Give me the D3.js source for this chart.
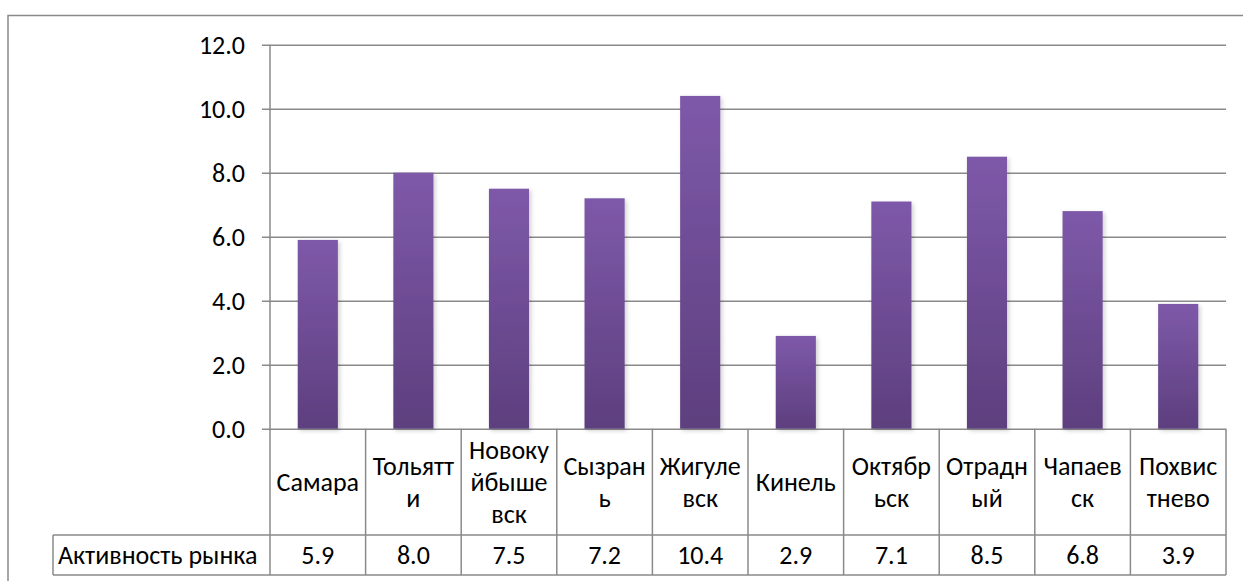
<!DOCTYPE html>
<html>
<head>
<meta charset="utf-8">
<script src="https://cdn.jsdelivr.net/npm/d3@7"></script>
<style>
  body { margin: 0; background: #fff; }
  text { font-family: Carlito, Roboto, sans-serif; fill: #000; }
</style>
</head>
<body>
<div id="chart"></div>
<script>
var categories = ["Самара", "Тольятти", "Новокуйбышевск", "Сызрань", "Жигулевск", "Кинель", "Октябрьск", "Отрадный", "Чапаевск", "Похвистнево"];
// how Excel wrapped the names inside the table cells
var categoryLines = [["Самара"], ["Тольятт", "и"], ["Новоку", "йбыше", "вск"], ["Сызран", "ь"], ["Жигуле", "вск"], ["Кинель"], ["Октябр", "ьск"], ["Отрадн", "ый"], ["Чапаев", "ск"], ["Похвис", "тнево"]];
var seriesName = "Активность рынка";
var values = [5.9, 8.0, 7.5, 7.2, 10.4, 2.9, 7.1, 8.5, 6.8, 3.9];
var yTicks = [0, 2, 4, 6, 8, 10, 12];

var W = 1243, H = 581;
var plotL = 270, plotR = 1226, plotT = 44.7, plotB = 428.7;
var row1 = 535, row2 = 575, tableLeft = 53;
var lineCol = "#8a8a8a";
var fs = 26;

var svg = d3.select("#chart").append("svg")
  .attr("width", W)
  .attr("height", H);

var defs = svg.append("defs");
var grad = defs.append("linearGradient")
  .attr("id", "barGrad")
  .attr("x1", 0).attr("y1", 0).attr("x2", 0).attr("y2", 1);
grad.append("stop").attr("offset", "0%").attr("stop-color", "#7e59a9");
grad.append("stop").attr("offset", "100%").attr("stop-color", "#5d3f7e");

var shadow = defs.append("filter").attr("id", "shadow")
  .attr("x", "-20%").attr("y", "-5%").attr("width", "150%").attr("height", "115%");
shadow.append("feDropShadow")
  .attr("dx", 2).attr("dy", 2).attr("stdDeviation", 2)
  .attr("flood-color", "#000").attr("flood-opacity", 0.18);

// outer chart frame
svg.append("path")
  .attr("d", "M8," + H + "V15.5H" + W)
  .attr("fill", "none")
  .attr("stroke", lineCol)
  .attr("stroke-width", 1.5);

var x = d3.scaleBand()
  .domain(categories)
  .range([plotL, plotR])
  .padding(0);

var y = d3.scaleLinear()
  .domain([0, 12])
  .range([plotB, plotT]);

// y axis + gridlines
var yAxis = d3.axisLeft(y)
  .tickValues(yTicks)
  .tickFormat(d3.format(".1f"))
  .tickSizeInner(-(plotR - plotL))
  .tickSizeOuter(0)
  .tickPadding(25);

var gy = svg.append("g")
  .attr("transform", "translate(" + plotL + ",0)")
  .call(yAxis);
gy.select(".domain").remove();
gy.selectAll(".tick line")
  .attr("x1", -8)
  .attr("x2", plotR - plotL)
  .attr("stroke", lineCol)
  .attr("stroke-width", 1.5);
gy.selectAll(".tick text")
  .attr("font-size", fs)
  .attr("fill", "#000")
  .attr("font-family", "Carlito, Roboto, sans-serif");

// vertical axis line
svg.append("line")
  .attr("x1", plotL).attr("x2", plotL)
  .attr("y1", plotT).attr("y2", row2)
  .attr("stroke", lineCol)
  .attr("stroke-width", 1.5);

// bars
var bw = x.bandwidth() * 0.42;
svg.append("g").selectAll("rect")
  .data(values)
  .join("rect")
  .attr("x", function(d, i) { return x(categories[i]) + (x.bandwidth() - bw) / 2; })
  .attr("y", function(d) { return y(d); })
  .attr("width", bw)
  .attr("height", function(d) { return y(0) - y(d); })
  .attr("fill", "url(#barGrad)")
  .attr("filter", "url(#shadow)");

// data table
var table = svg.append("g")
  .attr("stroke", lineCol)
  .attr("stroke-width", 1.5);

categories.forEach(function(c) {
  table.append("line")
    .attr("x1", x(c) + x.bandwidth()).attr("x2", x(c) + x.bandwidth())
    .attr("y1", plotB).attr("y2", row2);
});
table.append("line")
  .attr("x1", tableLeft).attr("x2", plotR)
  .attr("y1", row1).attr("y2", row1);
table.append("line")
  .attr("x1", tableLeft).attr("x2", plotR)
  .attr("y1", row2).attr("y2", row2);
table.append("line")
  .attr("x1", tableLeft).attr("x2", tableLeft)
  .attr("y1", row1).attr("y2", row2);

var lh = 32;
var mid1 = (plotB + row1) / 2;
categories.forEach(function(c, i) {
  var lines = categoryLines[i];
  var t = svg.append("text")
    .attr("text-anchor", "middle")
    .attr("font-size", fs);
  lines.forEach(function(l, j) {
    t.append("tspan")
      .attr("x", x(c) + x.bandwidth() / 2)
      .attr("y", mid1 + (j - (lines.length - 1) / 2) * lh)
      .attr("dy", "0.35em")
      .text(l);
  });
});

var mid2 = (row1 + row2) / 2;
svg.append("g").selectAll("text")
  .data(values)
  .join("text")
  .attr("x", function(d, i) { return x(categories[i]) + x.bandwidth() / 2; })
  .attr("y", mid2)
  .attr("dy", "0.35em")
  .attr("text-anchor", "middle")
  .attr("font-size", fs)
  .text(function(d) { return d3.format(".1f")(d); });

svg.append("text")
  .attr("x", 58)
  .attr("y", mid2)
  .attr("dy", "0.35em")
  .attr("font-size", fs)
  .text(seriesName);
</script>
</body>
</html>
